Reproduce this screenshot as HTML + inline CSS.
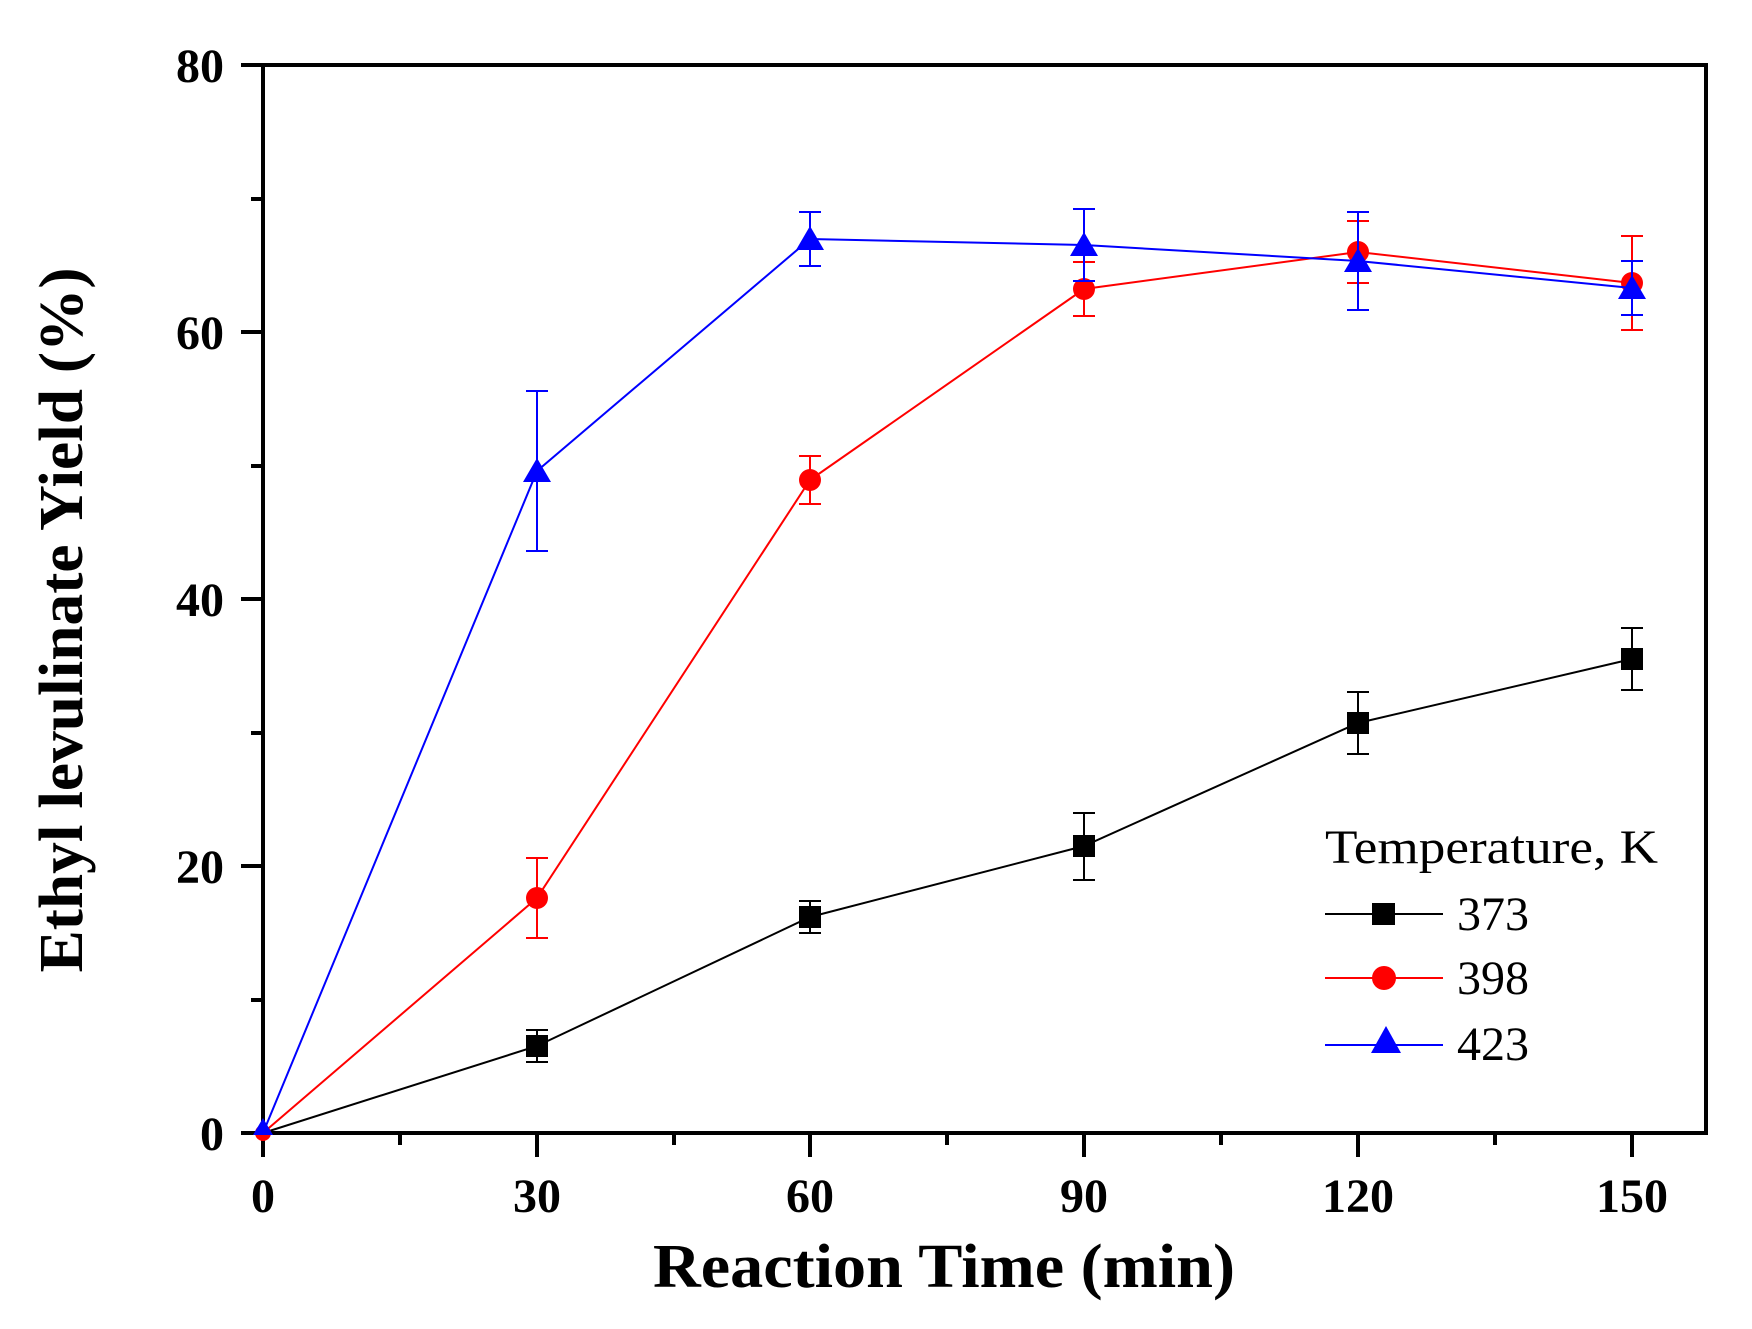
<!DOCTYPE html>
<html><head><meta charset="utf-8"><style>body{margin:0;background:#fff}svg{display:block}</style></head>
<body>
<svg width="1752" height="1329" xmlns="http://www.w3.org/2000/svg" font-family="Liberation Serif, serif">
<g stroke="#000" stroke-width="4" fill="none">
<path d="M263,65 H1706 V1133 H263 Z"/>
<path d="M263,1133 v24 M537,1133 v24 M810,1133 v24 M1084,1133 v24 M1358,1133 v24 M1632,1133 v24"/>
<path d="M400,1133 v12 M674,1133 v12 M947,1133 v12 M1221,1133 v12 M1495,1133 v12"/>
<path d="M263,65 h-22 M263,332 h-22 M263,599 h-22 M263,866 h-22 M263,1133 h-22"/>
<path d="M263,199 h-12 M263,466 h-12 M263,733 h-12 M263,1000 h-12"/>
</g>
<g font-weight="bold" font-size="48" text-anchor="middle">
<text x="263" y="1212">0</text><text x="537" y="1212">30</text><text x="810" y="1212">60</text><text x="1084" y="1212">90</text><text x="1358" y="1212">120</text><text x="1632" y="1212">150</text>
</g>
<g font-weight="bold" font-size="48" text-anchor="end">
<text x="224" y="82">80</text><text x="224" y="349">60</text><text x="224" y="616">40</text><text x="224" y="883">20</text><text x="224" y="1150">0</text>
</g>
<text x="944" y="1287" font-weight="bold" font-size="62" text-anchor="middle" textLength="582" lengthAdjust="spacingAndGlyphs">Reaction Time (min)</text>
<text transform="translate(82,620) rotate(-90)" font-weight="bold" font-size="62" text-anchor="middle" textLength="705" lengthAdjust="spacingAndGlyphs">Ethyl levulinate Yield (%)</text>
<g stroke="#000" stroke-width="2" fill="none">
<polyline points="263,1133 537,1046 810,917 1084,846 1358,723 1632,659"/>
<path d="M537,1030 v32 M526,1030 h22 M526,1062 h22 M810,901 v32 M799,901 h22 M799,933 h22 M1084,813 v67 M1073,813 h22 M1073,880 h22 M1358,692 v62 M1347,692 h22 M1347,754 h22 M1632,628 v62 M1621,628 h22 M1621,690 h22"/>
</g>
<g fill="#000"><rect x="526" y="1035" width="22" height="22"/><rect x="799" y="906" width="22" height="22"/><rect x="1073" y="835" width="22" height="22"/><rect x="1347" y="712" width="22" height="22"/><rect x="1621" y="648" width="22" height="22"/></g>
<g stroke="#f00" stroke-width="2" fill="none">
<polyline points="263,1133 537,898 810,480 1084,289 1358,252 1632,283"/>
<path d="M537,858 v80 M526,858 h22 M526,938 h22 M810,456 v48 M799,456 h22 M799,504 h22 M1084,262 v54 M1073,262 h22 M1073,316 h22 M1358,221 v62 M1347,221 h22 M1347,283 h22 M1632,236 v94 M1621,236 h22 M1621,330 h22"/>
</g>
<g fill="#f00"><circle cx="537" cy="898" r="11"/><circle cx="810" cy="480" r="11"/><circle cx="1084" cy="289" r="11"/><circle cx="1358" cy="252" r="11"/><circle cx="1632" cy="283" r="11"/><circle cx="263" cy="1133" r="8"/></g>
<g stroke="#00f" stroke-width="2" fill="none">
<polyline points="263,1133 537,471 810,239 1084,245 1358,261 1632,288"/>
<path d="M537,391 v160 M526,391 h22 M526,551 h22 M810,212 v54 M799,212 h22 M799,266 h22 M1084,209 v72 M1073,209 h22 M1073,281 h22 M1358,212 v98 M1347,212 h22 M1347,310 h22 M1632,261 v54 M1621,261 h22 M1621,315 h22"/>
</g>
<g fill="#00f"><path d="M537,458 l14,24 h-28z"/><path d="M810,226 l14,24 h-28z"/><path d="M1084,232 l14,24 h-28z"/><path d="M1358,248 l14,24 h-28z"/><path d="M1632,275 l14,24 h-28z"/><path d="M263,1118 l10,17 h-20z"/></g>
<text x="1325" y="863" font-size="48" textLength="333" lengthAdjust="spacingAndGlyphs">Temperature, K</text>
<g stroke-width="2"><line x1="1325" y1="914" x2="1443" y2="914" stroke="#000"/><line x1="1325" y1="978" x2="1443" y2="978" stroke="#f00"/><line x1="1325" y1="1045" x2="1443" y2="1045" stroke="#00f"/></g>
<rect x="1372" y="903" width="23" height="22" fill="#000"/>
<circle cx="1384" cy="978" r="12" fill="#f00"/>
<path d="M1386,1026 l15,27 h-30z" fill="#00f"/>
<g font-size="48"><text x="1457" y="930">373</text><text x="1457" y="994">398</text><text x="1457" y="1060">423</text></g>
</svg>
</body></html>
